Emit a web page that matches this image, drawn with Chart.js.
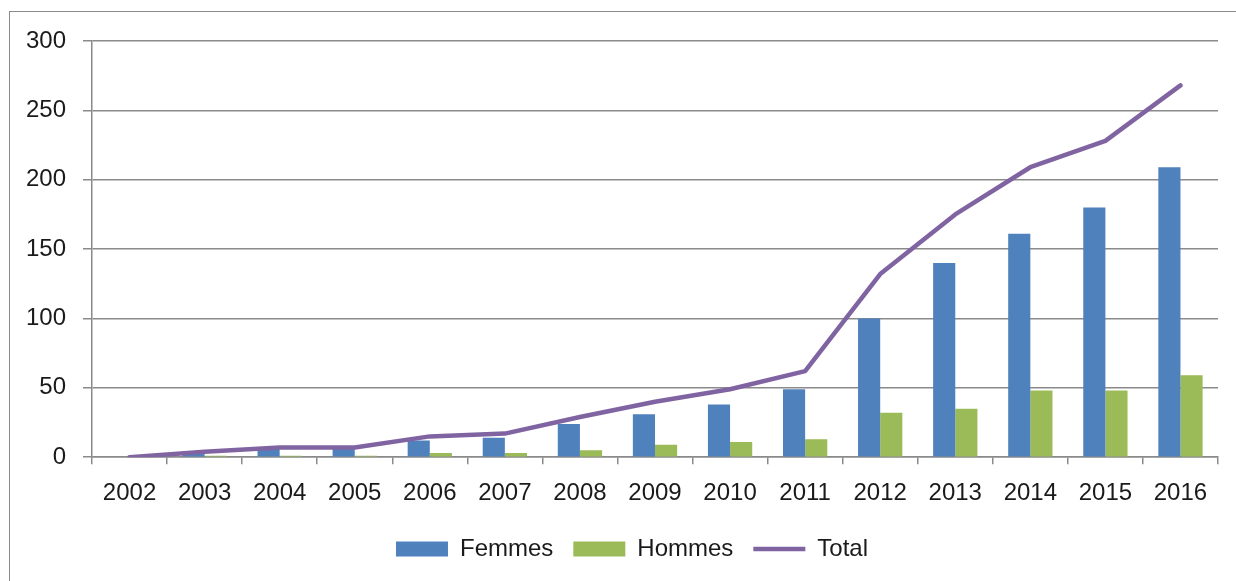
<!DOCTYPE html>
<html>
<head>
<meta charset="utf-8">
<script src="https://cdn.jsdelivr.net/npm/chart.js@4/dist/chart.umd.min.js"></script>
<style>
  html, body { margin: 0; padding: 0; background: #fff; overflow: hidden; }
  #frame { position: absolute; left: 9px; top: 11px; width: 1260px; height: 620px; border: 1.5px solid #8a8a8a; }
  #wrap { position: absolute; left: 0; top: 0; width: 1236px; height: 581px; }
</style>
</head>
<body>
<div id="frame"></div>
<div id="wrap"><canvas id="myChart" width="1236" height="581"></canvas></div>
<script>
const years = ['2002','2003','2004','2005','2006','2007','2008','2009','2010','2011','2012','2013','2014','2015','2016']
const femmes = [0, 3, 6, 6, 12, 14, 24, 31, 38, 49, 100, 140, 161, 180, 209]
const hommes = [0, 1, 1, 1, 3, 3, 5, 9, 11, 13, 32, 35, 48, 48, 59]
const total = [0, 4, 7, 7, 15, 17, 29, 40, 49, 62, 132, 175, 209, 228, 268]

const gridColor = '#8a8a8a'
const textColor = '#1a1a1a'
Chart.defaults.font.family = '"Liberation Sans", Arial, sans-serif'
Chart.defaults.font.size = 24
Chart.defaults.color = textColor

// the original legend sits a bit right of the canvas centre
const legendShift = {
  id: 'legendShift',
  afterLayout(chart) {
    chart.legend.left += 23
    chart.legend.right += 23
  }
}

const ctx = document.getElementById('myChart').getContext('2d')
new Chart(ctx, {
  type: 'bar',
  data: {
    labels: years,
    datasets: [
      {
        label: 'Femmes',
        data: femmes,
        backgroundColor: '#4f81bd',
        borderWidth: 0,
        categoryPercentage: 0.59,
        barPercentage: 1,
        pointStyle: 'rect',
        order: 1
      },
      {
        label: 'Hommes',
        data: hommes,
        backgroundColor: '#9bbb59',
        borderWidth: 0,
        categoryPercentage: 0.59,
        barPercentage: 1,
        pointStyle: 'rect',
        order: 2
      },
      {
        type: 'line',
        label: 'Total',
        data: total,
        borderColor: '#8064a2',
        backgroundColor: '#8064a2',
        borderWidth: 4.5,
        borderCapStyle: 'round',
        borderJoinStyle: 'round',
        pointRadius: 0,
        pointStyle: 'line',
        tension: 0,
        order: 0
      }
    ]
  },
  options: {
    responsive: false,
    animation: false,
    layout: { padding: { left: 0, right: 18, top: 41, bottom: 10 } },
    scales: {
      x: {
        offset: true,
        grid: { offset: true, drawOnChartArea: false, color: gridColor, lineWidth: 1.5, tickLength: 7 },
        border: { color: gridColor, width: 1.5 },
        ticks: { padding: 15, color: textColor, maxRotation: 0 },
        afterFit: s => { s.height -= 6 }
      },
      y: {
        min: 0,
        max: 300,
        ticks: { stepSize: 50, padding: 17, color: textColor },
        grid: { color: gridColor, lineWidth: 1.5, tickLength: 9 },
        border: { color: gridColor, width: 1.5 },
        afterFit: s => { s.width = 92 }
      }
    },
    plugins: {
      tooltip: { enabled: false },
      legend: {
        position: 'bottom',
        labels: {
          usePointStyle: true,
          pointStyleWidth: 52,
          boxHeight: 15,
          padding: 20,
          color: textColor,
          sort: (a, b) => a.datasetIndex - b.datasetIndex
        }
      }
    }
  },
  plugins: [legendShift]
})
</script>
</body>
</html>
